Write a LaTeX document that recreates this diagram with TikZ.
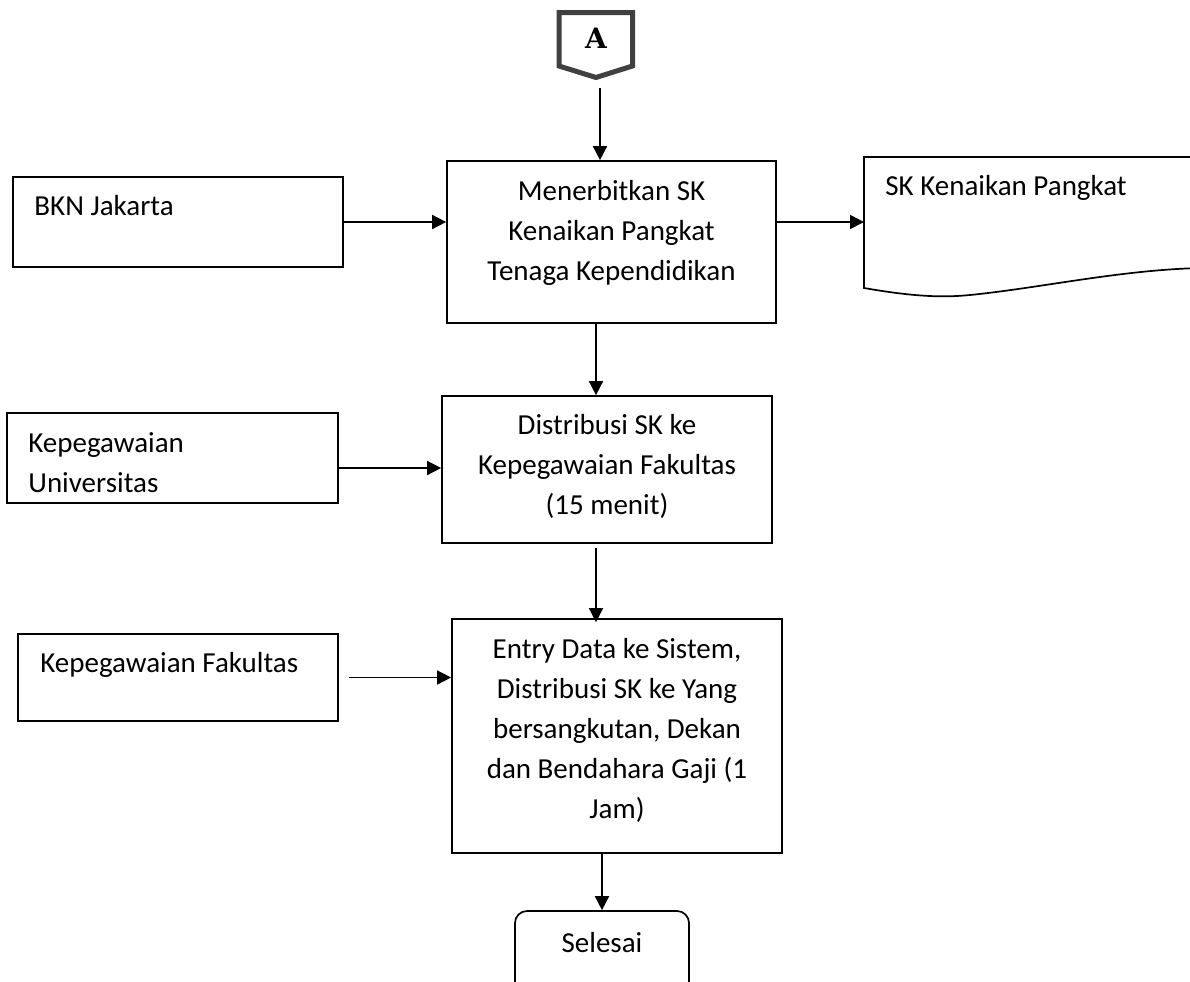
\documentclass[tikz,border=0pt]{standalone}
\usepackage{fontspec}
\setmainfont{Carlito}
\newfontfamily\afont{DejaVu Serif}
\usetikzlibrary{arrows.meta,fit,calc}
\definecolor{conngray}{HTML}{404040}
\tikzset{
  box/.style={draw=black, line width=0.85pt, inner sep=0pt, rectangle},
  txt/.style={font={\fontsize{14.5}{20}\selectfont}, inner sep=0pt, text=black},
  arr/.style={draw=black, line width=0.8pt, -{Triangle[length=7pt,width=7pt]}},
  offpage/.style={draw=conngray, line width=2.5pt, line join=miter}
}
\begin{document}
\begin{tikzpicture}[x=0.5pt,y=-0.5pt]
\useasboundingbox (0,0) rectangle (1190,981);
\clip (0,0) rectangle (1190,981);
% off-page connector A
\draw[offpage] (559,12.5) -- (632.5,12.5) -- (632.5,66) -- (596,77.5) -- (559,66) -- cycle;
\node[anchor=base, inner sep=0pt, font={\afont\bfseries\fontsize{14}{16}\selectfont}] (A) at (596,48.3) {A};
\coordinate (atip) at (600,88);
% boxes
\node[box, fit={(447,161) (776,323)}] (b1) {};
\node[txt, align=center] (b1t) at (611.5,233) {Menerbitkan SK\\Kenaikan Pangkat\\Tenaga Kependidikan};
\node[box, fit={(13,177) (343,267)}] (bkn) {};
\node[txt, anchor=base west] (bknt) at (34,215) {BKN Jakarta};
% document shape
\draw[line width=0.85pt] (1200,157) -- (864,157) -- (864,288)
  .. controls (910,296) and (940,298) .. (970,295)
  .. controls (1040,288) and (1120,270) .. (1200,268);
\coordinate (docw) at (864,222);
\node[txt, anchor=base west] (doct) at (885,195) {SK Kenaikan Pangkat};
% box 2
\node[box, fit={(442,396) (772,543)}] (b2) {};
\node[txt, align=center] (b2t) at (607,466) {Distribusi SK ke\\Kepegawaian Fakultas\\(15 menit)};
\node[box, fit={(7,413) (338,503)}] (ku) {};
\node[txt, align=left, anchor=west] (kut) at (28,463) {Kepegawaian\\Universitas};
% box 3
\node[box, fit={(452,619) (782,853)}] (b3) {};
\node[txt, align=center] (b3t) at (617,730.5) {Entry Data ke Sistem,\\Distribusi SK ke Yang\\bersangkutan, Dekan\\dan Bendahara Gaji (1\\Jam)};
\node[box, fit={(18,634) (338,721)}] (kf) {};
\node[txt, anchor=base west] (kft) at (40,672) {Kepegawaian Fakultas};
% end
\node[box, rounded corners=6pt, fit={(515,911) (689,995)}] (sel) {};
\node[txt, anchor=base] (selt) at (602,952) {Selesai};
% connectors
\draw[arr] (atip) -- (atip |- b1.north);
\draw[arr] (bkn.east) -- (bkn.east -| b1.west);
\draw[arr] (bkn.east -| b1.east) -- (docw);
\draw[arr] ([shift={(-15.5,0)}]b1.south) -- ([shift={(-15.5,0)}]b1.south |- b2.north);
\draw[arr] ([shift={(0,10)}]ku.east) -- ([shift={(0,10)}]ku.east -| b2.west);
\draw[arr] ([shift={(-11,4)}]b2.south) -- ([shift={(-11,4)}]b2.south |- b3.north);
\draw[arr] ([shift={(10,0)}]kf.east) -- (kf.east -| b3.west);
\draw[arr] (b3.south -| sel.north) -- (sel.north);
\end{tikzpicture}
\end{document}
